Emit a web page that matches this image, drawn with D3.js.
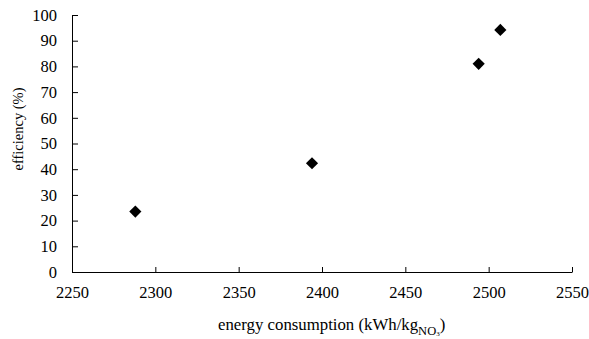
<!DOCTYPE html>
<html>
<head>
<meta charset="utf-8">
<script src="https://cdn.jsdelivr.net/npm/d3@7"></script>
<style>
  html, body { margin: 0; padding: 0; background: #fff; }
  svg { display: block; }
  text { font-family: "Liberation Serif", "Times New Roman", serif; fill: #000; }
</style>
</head>
<body>
<svg id="chart" width="589" height="339"></svg>
<script>
// Energy consumption (kWh per kg NO3) vs. efficiency (%)
const energy = [2288, 2394, 2494, 2507];
const efficiency = [23.5, 42.3, 81, 94.2];
const xTicks = [2250, 2300, 2350, 2400, 2450, 2500, 2550];
const yTicks = [0, 10, 20, 30, 40, 50, 60, 70, 80, 90, 100];

const svg = d3.select("#chart");
const plot = { left: 72, right: 572, top: 15, bottom: 272 };

const x = d3.scaleLinear().domain([2250, 2550]).range([plot.left, plot.right]);
const y = d3.scaleLinear().domain([0, 100]).range([plot.bottom, plot.top]);

// x axis: ticks point inward (up)
const xAxis = svg.append("g")
  .attr("transform", `translate(0,${plot.bottom})`)
  .call(d3.axisBottom(x).tickValues(xTicks).tickFormat(d3.format("d"))
    .tickSize(-5).tickPadding(14).tickSizeOuter(0));

// y axis: ticks point inward (right)
const yAxis = svg.append("g")
  .attr("transform", `translate(${plot.left},0)`)
  .call(d3.axisLeft(y).tickValues(yTicks).tickFormat(d3.format("d"))
    .tickSize(-6).tickPadding(15).tickSizeOuter(0));

[xAxis, yAxis].forEach(g => {
  g.select(".domain").attr("stroke", "#000").attr("stroke-width", 1);
  g.selectAll(".tick line").attr("stroke", "#000").attr("stroke-width", 1);
  g.selectAll(".tick text")
    .style("font-family", "'Liberation Serif', 'Times New Roman', serif")
    .style("font-size", "16.5px")
    .attr("fill", "#000");
});

// diamond markers
const diamond = d3.symbol().type(d3.symbolSquare).size(74);
svg.append("g").selectAll("path")
  .data(energy.map((e, i) => [e, efficiency[i]]))
  .join("path")
  .attr("d", diamond)
  .attr("transform", d => `translate(${x(d[0])},${y(d[1])}) rotate(45)`)
  .attr("fill", "#000");

// axis titles
svg.append("text")
  .attr("transform", `translate(23,129) rotate(-90)`)
  .attr("text-anchor", "middle")
  .style("font-size", "14.5px")
  .text("efficiency (%)");

const xt = svg.append("text")
  .attr("x", 218)
  .attr("y", 330)
  .style("font-size", "16.8px");
xt.append("tspan").text("energy consumption (kWh/kg");
xt.append("tspan").attr("dy", 5).style("font-size", "12.5px").text("NO");
xt.append("tspan").attr("dy", 1).style("font-size", "7px").text("3");
xt.append("tspan").attr("dy", -6).text(")");
</script>
</body>
</html>
